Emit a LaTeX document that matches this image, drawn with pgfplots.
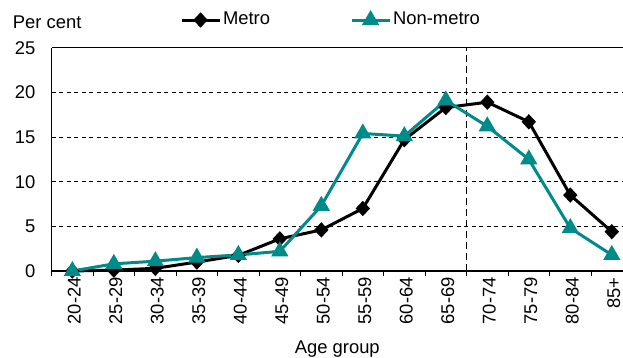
\documentclass[border=0pt]{standalone}
\usepackage{fontspec}
\setmainfont{Liberation Sans}
\usepackage{pgfplots}
\pgfplotsset{compat=1.18}
\definecolor{tealc}{RGB}{0,139,139}
\begin{document}
\fontsize{18.4}{22}\selectfont
\begin{tikzpicture}
\useasboundingbox (-51.6pt,-87pt) rectangle (571.4pt,271pt);
\begin{axis}[
  scale only axis, width=571.4pt, height=223.3pt,
  at={(0,0)}, anchor=south west,
  xmin=-0.5, xmax=13.27, ymin=0, ymax=25,
  axis x line*=bottom, axis y line*=left,
  axis line style={-, line width=1.6pt},
  xtick={0,...,13},
  xticklabels={20-24,25-29,30-34,35-39,40-44,45-49,50-54,55-59,60-64,65-69,70-74,75-79,80-84,85+},
  x tick label style={rotate=90, anchor=east, yshift=-2pt},
  major tick length=0pt,
  minor xtick={-0.5,0.5,...,12.5},
  minor x tick style={black, line width=1pt},
  minor tick length=5pt,
  tick align=outside,
  ytick={0,5,10,15,20},
  extra y ticks={25},
  extra y tick style={grid=major, major grid style={solid, black, line width=1pt}},
  extra x ticks={9.5},
  extra x tick labels={},
  extra x tick style={grid=major, major grid style={black, line width=1.6pt, dash pattern=on 7pt off 4pt}},
  ymajorgrids,
  major grid style={black, line width=0.8pt, dash pattern=on 4pt off 3.5pt},
  yticklabel style={xshift=-10pt},
  /pgf/number format/assume math mode=true,
  xlabel={Age group},
  xlabel style={yshift=-4pt},
  clip=false,
  legend columns=2,
  legend style={at={(0.489,1.124)}, anchor=center, draw=none, fill=none,
    /tikz/every even column/.append style={column sep=78pt},
    nodes={inner xsep=2pt}},
  legend image code/.code={\draw[mark repeat=2,mark phase=2,#1] plot coordinates {(0pt,0pt)(19pt,0pt)(38pt,0pt)};},
]
\addplot[black, line width=3pt, mark=diamond*, mark size=5.5pt, mark options={solid, xscale=1.25}]
  coordinates {(0,0.0)(1,0.1)(2,0.3)(3,1.0)(4,1.75)(5,3.6)(6,4.6)(7,7.0)(8,14.7)(9,18.3)(10,18.9)(11,16.7)(12,8.5)(13,4.4)};
\addlegendentry{Metro}
\addplot[tealc, line width=3pt, mark=triangle*, mark size=7pt, mark options={solid}]
  coordinates {(0,0.0)(1,0.8)(2,1.1)(3,1.5)(4,1.8)(5,2.2)(6,7.3)(7,15.4)(8,15.1)(9,19.1)(10,16.2)(11,12.5)(12,4.8)(13,1.8)};
\addlegendentry{Non-metro}
\node[anchor=base west, inner sep=0pt] at (axis description cs:-0.068,1.088) {Per cent};
\end{axis}
\end{tikzpicture}
\end{document}
